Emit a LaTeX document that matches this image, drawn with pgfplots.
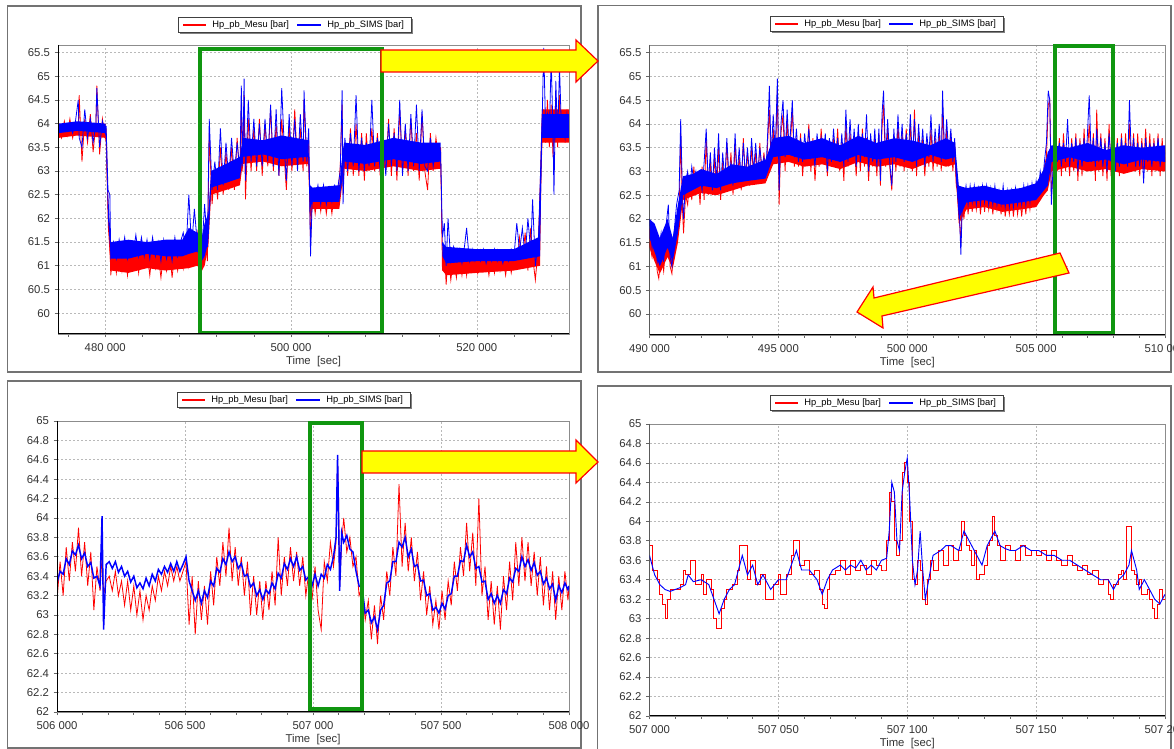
\documentclass[border=0pt]{standalone}
\usepackage{fontspec}
\setmainfont{Liberation Sans}
\usepackage{pgfplots}
\pgfplotsset{compat=1.18}
\usepackage{pgfplotstable}

\definecolor{mred}{RGB}{255,0,0}
\definecolor{sblue}{RGB}{0,0,255}
\definecolor{boxgreen}{RGB}{16,150,16}
\definecolor{arrowyellow}{RGB}{255,255,0}
\tikzset{greenbox/.style={draw=boxgreen, line width=3pt}}

% core bands of the noise (upper edge forward, lower edge backward)
\pgfplotstableread{
t y
475000 64.0
477000 63.95
480050 64.0
480300 62.3
480600 61.35
482500 61.3
484500 61.35
486500 61.25
489000 61.35
489900 61.5
490400 61.5
490700 61.6
491100 62.0
491400 62.9
493000 63.0
494500 63.2
494800 63.6
497000 63.55
499000 63.65
501850 63.55
502050 62.6
502300 62.5
505200 62.6
505500 63.2
505700 63.5
508000 63.45
511000 63.6
514000 63.5
516100 63.5
516300 61.3
516700 61.2
520000 61.25
524000 61.2
526600 61.4
527000 64.3
529920 64.3
529920 63.6
527000 63.6
526800 61.0
524000 60.9
520000 60.85
516700 60.8
516300 60.9
516100 63.05
514000 63.0
511000 63.1
508000 63.0
505700 63.05
505500 62.7
505200 62.2
502300 62.2
502050 62.0
501850 63.15
499000 63.1
497000 63.2
494800 63.15
494500 62.7
493000 62.6
491400 62.5
491100 61.4
490700 61.0
490400 60.9
489900 61.0
489000 60.95
486500 60.9
484500 60.95
482500 60.85
480600 60.9
480300 61.8
480050 63.7
477000 63.75
475000 63.7
}\bandTLm

\pgfplotstableread{
t y
475000 64.0
477000 64.05
480050 64.0
480300 62.6
480600 61.5
482500 61.55
484500 61.5
486500 61.55
488300 61.55
489000 61.8
489900 61.7
490400 61.6
490700 61.9
491100 62.1
491400 63.0
493000 63.15
494500 63.3
494800 63.7
497000 63.65
499000 63.75
501850 63.65
502050 62.7
502300 62.65
505200 62.7
505500 63.3
505700 63.6
508000 63.55
511000 63.7
514000 63.6
516100 63.6
516300 61.5
516700 61.4
520000 61.35
524000 61.35
526600 61.6
527000 64.2
529920 64.2
529920 63.7
527000 63.7
526800 61.2
524000 61.1
520000 61.1
516700 61.05
516300 61.2
516100 63.2
514000 63.15
511000 63.25
508000 63.15
505700 63.2
505500 62.8
505200 62.35
502300 62.35
502050 62.2
501850 63.3
499000 63.25
497000 63.35
494800 63.3
494500 62.85
493000 62.75
491400 62.65
491100 61.5
490700 61.2
490400 61.1
489900 61.3
489000 61.25
488300 61.2
486500 61.2
484500 61.25
482500 61.15
480600 61.15
480300 62.0
480050 63.8
477000 63.85
475000 63.8
}\bandTLs

\pgfplotstableread{
t y
490000 61.8
490200 61.7
490400 61.4
490700 61.8
490900 61.5
491100 62.2
491300 62.8
491700 62.85
492000 62.95
492600 62.85
493200 63.05
493800 63.0
494500 63.15
494800 63.55
495400 63.6
496000 63.5
496700 63.6
497400 63.45
498100 63.6
498800 63.5
499500 63.55
500200 63.5
500900 63.45
501500 63.55
501850 63.5
502000 62.6
502300 62.5
503000 62.55
503700 62.45
504400 62.5
505000 62.6
505300 63.0
505450 63.3
505600 63.45
506300 63.4
507000 63.5
507700 63.35
508400 63.45
509100 63.4
510000 63.45
510000 63.0
509100 63.05
508400 62.95
507700 63.05
507000 63.0
506300 63.1
505600 63.0
505450 62.6
505300 62.5
505000 62.25
504400 62.2
503700 62.15
503000 62.25
502300 62.2
502000 61.9
501850 63.15
501500 63.1
500900 63.2
500200 63.05
499500 63.15
498800 63.1
498100 63.2
497400 63.05
496700 63.15
496000 63.1
495400 63.2
494800 63.15
494500 62.75
493800 62.7
493200 62.6
492600 62.5
492000 62.55
491300 62.4
491100 61.5
490900 60.95
490700 61.2
490400 60.85
490200 61.1
490000 61.4
}\bandTRm

\pgfplotstableread{
t y
490000 62.0
490200 61.9
490400 61.6
490700 62.0
490900 61.6
491100 62.3
491300 62.9
491700 62.95
492000 63.05
492600 62.95
493200 63.15
493800 63.1
494500 63.25
494800 63.7
495400 63.75
496000 63.6
496700 63.7
497400 63.55
498100 63.75
498800 63.6
499500 63.7
500200 63.65
500900 63.55
501500 63.7
501850 63.6
502000 62.7
502300 62.65
503000 62.7
503700 62.6
504400 62.65
505000 62.75
505300 63.05
505450 63.4
505600 63.55
506300 63.5
507000 63.6
507700 63.45
508400 63.55
509100 63.5
510000 63.55
510000 63.2
509100 63.25
508400 63.15
507700 63.25
507000 63.2
506300 63.3
505600 63.2
505450 62.7
505300 62.6
505000 62.4
504400 62.35
503700 62.3
503000 62.4
502300 62.35
502000 62.0
501850 63.3
501500 63.25
500900 63.35
500200 63.2
499500 63.3
498800 63.25
498100 63.35
497400 63.2
496700 63.3
496000 63.25
495400 63.35
494800 63.3
494500 62.85
493800 62.8
493200 62.75
492600 62.65
492000 62.7
491300 62.5
491100 61.7
490900 61.1
490700 61.4
490400 61.0
490200 61.3
490000 61.6
}\bandTRs

\pgfplotstableread{
t m s
475000 63.9 63.95
475300 63.7 63.85
475600 64.05 64.0
475900 63.75 63.85
476200 64.1 64.0
476500 63.7 63.8
476800 64.0 64.05
477100 63.8 64.5
477200 64.6 63.7
477500 63.2 63.5
477800 64.1 64.3
478100 63.6 63.7
478400 64.2 64.1
478700 63.4 63.6
479000 64.0 64.0
479100 64.8 64.75
479400 63.35 63.5
479700 64.1 64.05
480000 63.7 63.8
480100 63.9 63.95
480300 62.3 62.6
480500 61.5 62.5
480600 60.8 61.2
480900 61.4 61.5
481200 60.85 61.15
481500 61.35 61.55
481800 60.9 61.2
482100 61.4 61.6
482400 60.8 61.15
482700 61.3 61.5
483000 60.95 61.25
483300 61.45 61.65
483600 60.85 61.2
483900 61.4 61.6
484200 61.0 61.2
484500 61.3 61.55
484800 60.8 61.15
485100 61.35 61.6
485400 60.95 61.2
485700 61.25 61.5
486000 60.75 61.1
486300 61.3 61.55
486600 60.9 61.15
486900 61.4 61.45
487200 60.75 61.1
487500 61.3 61.6
487800 60.9 61.2
488100 61.35 61.5
488400 60.95 61.7
488700 61.5 61.3
489000 61.0 62.5
489300 61.6 61.4
489600 61.2 62.2
489900 61.7 61.5
490100 61.4 61.9
490400 60.9 61.3
490700 61.8 62.3
491000 61.1 61.4
491200 63.8 64.1
491500 62.3 62.6
491800 63.0 63.2
492100 62.4 62.6
492400 63.5 63.9
492700 62.5 62.7
493000 63.4 63.6
493300 62.6 62.8
493600 63.5 63.7
493900 62.6 62.9
494200 63.7 63.6
494500 62.8 63.0
494650 64.4 64.8
494800 63.0 63.1
494950 64.6 64.95
495100 62.4 62.8
495400 64.1 64.5
495700 63.0 63.2
496000 63.9 64.1
496300 63.0 63.1
496600 64.1 64.0
496900 62.9 63.1
497200 64.0 64.1
497500 63.1 63.2
497800 64.3 64.4
498100 63.0 63.1
498400 64.0 64.3
498700 62.9 62.9
499000 64.1 64.75
499300 63.2 63.4
499500 62.6 62.8
499800 64.0 64.2
500100 63.0 63.1
500400 64.3 64.1
500700 63.1 63.0
501000 63.9 64.2
501300 63.0 63.2
501400 64.5 64.7
501700 63.1 63.2
501900 63.8 63.9
502000 62.4 62.6
502100 61.5 61.2
502300 62.6 62.5
502600 62.1 62.4
502900 62.6 62.7
503200 62.15 62.3
503500 62.6 62.7
503800 62.1 62.3
504100 62.55 62.65
504400 62.1 62.35
504700 62.6 62.7
505000 62.4 62.6
505300 63.1 63.0
505500 64.4 64.7
505600 62.5 62.3
505800 63.6 63.7
506100 62.9 63.0
506400 63.9 63.8
506700 62.9 63.1
507000 64.0 64.6
507300 62.9 63.0
507600 63.8 63.7
507900 62.8 63.0
508100 63.8 63.6
508400 63.0 63.1
508700 63.9 64.5
509000 63.0 63.1
509300 63.8 63.7
509600 62.9 63.0
509900 63.85 63.8
510200 63.0 62.9
510500 64.1 64.0
510800 62.9 63.1
511100 63.9 63.8
511400 62.8 63.0
511700 64.3 64.5
512000 63.0 62.9
512300 63.9 64.0
512600 62.9 63.0
512900 64.1 64.2
513200 63.0 63.1
513500 63.8 64.4
513800 62.8 63.0
514100 64.2 64.3
514400 63.0 63.1
514700 62.6 63.0
515000 63.8 63.7
515300 63.0 63.1
515600 63.7 63.5
515900 63.2 63.3
516100 63.5 63.4
516300 60.9 61.6
516500 61.4 61.9
516700 60.6 61.0
516900 61.3 62.0
517200 60.7 61.1
517500 61.2 61.4
517800 60.75 61.1
518100 61.3 61.35
518400 60.8 61.05
518700 61.25 61.45
518900 60.8 61.8
519200 61.3 61.1
519500 60.9 61.35
519800 61.25 61.1
520100 60.85 61.3
520400 61.3 61.1
520700 60.9 61.35
521000 61.2 61.05
521300 60.8 61.3
521600 61.25 61.1
521900 60.85 61.35
522200 61.3 61.1
522500 60.9 61.3
522800 61.2 61.05
523100 60.8 61.3
523400 61.25 61.1
523700 60.85 61.35
524000 61.2 61.2
524300 61.0 61.9
524600 61.6 61.3
524900 61.1 61.8
525200 61.7 61.2
525500 60.9 62.0
525800 61.8 61.3
526000 61.2 62.4
526300 60.7 61.0
526600 61.4 61.5
526800 62.4 62.0
527000 63.5 63.8
527200 64.3 65.6
527400 63.6 63.9
527600 64.5 64.2
527800 63.5 63.7
528000 64.4 65.4
528200 63.3 63.8
528300 63.9 62.5
528500 64.5 64.9
528700 63.5 63.7
528900 64.6 65.2
529100 63.7 63.9
529300 64.2 64.0
529500 63.6 63.7
529700 64.3 64.2
529900 63.8 63.9
}\tabTL

\pgfplotstableread{
t m s
490000 61.5 62.0
490100 61.2 61.4
490200 61.6 61.8
490300 60.9 61.1
490360 60.75 61.3
490450 61.3 61.7
490550 60.9 61.1
490650 61.6 61.9
490730 61.9 62.3
490800 61.0 61.2
490870 60.85 61.0
490950 61.5 61.7
491050 61.9 62.3
491150 62.1 62.6
491210 63.8 64.1
491280 62.2 62.5
491320 61.7 62.0
491400 62.5 62.8
491480 62.3 63.0
491560 62.9 62.6
491640 62.4 63.1
491720 63.1 62.8
491800 62.5 63.0
491880 63.0 62.7
491960 62.3 62.9
492040 63.1 62.6
492120 62.4 63.2
492200 63.7 63.9
492280 62.5 62.7
492360 63.2 63.4
492440 62.5 62.6
492520 63.3 63.5
492600 62.6 62.8
492680 63.5 63.8
492760 62.4 62.6
492840 63.2 63.4
492920 62.6 62.8
493000 63.6 63.7
493080 62.7 62.9
493160 63.4 63.2
493240 62.5 62.7
493320 63.6 63.8
493400 62.8 62.9
493480 63.3 63.5
493560 62.6 62.8
493640 63.7 63.6
493720 62.8 62.9
493800 63.4 63.5
493880 62.7 62.9
493960 63.5 63.7
494040 62.9 63.0
494120 63.4 63.6
494200 62.8 62.9
494280 63.6 63.5
494360 62.9 63.1
494440 63.4 63.3
494520 62.8 63.0
494600 63.8 64.0
494650 64.3 64.8
494720 63.1 63.3
494800 63.9 64.2
494880 63.2 63.4
494960 64.7 64.95
495030 62.3 62.6
495100 63.8 64.0
495180 64.2 64.5
495260 63.0 63.3
495340 64.1 64.3
495420 63.2 63.4
495500 63.9 64.1
495540 64.3 64.5
495620 63.1 63.3
495700 63.7 63.9
495780 63.1 63.2
495860 63.8 63.7
495940 62.9 63.2
496020 63.6 63.8
496100 63.2 63.3
496180 64.0 63.9
496260 63.0 63.3
496340 63.7 63.5
496420 62.8 63.1
496500 63.5 63.8
496580 63.1 63.3
496660 63.9 63.7
496740 63.2 63.3
496820 63.6 63.8
496900 62.9 63.0
496980 63.5 63.7
497060 63.1 63.2
497140 63.7 63.9
497220 63.2 63.3
497300 63.9 63.7
497380 63.0 63.2
497460 63.6 63.8
497540 62.8 63.1
497620 64.0 64.3
497700 63.1 63.2
497780 63.8 64.1
497860 63.2 63.3
497940 63.6 63.9
498020 62.9 63.1
498100 63.8 64.0
498180 63.0 63.2
498260 63.9 63.8
498340 63.1 63.3
498420 63.7 64.2
498500 62.8 63.0
498580 63.6 63.8
498660 63.1 63.2
498740 63.7 63.9
498820 62.9 63.1
498900 63.8 63.9
498960 62.7 62.8
499020 63.9 64.2
499080 64.4 64.7
499160 63.1 63.3
499240 63.9 64.1
499320 63.1 63.2
499400 62.6 62.7
499480 63.7 63.9
499560 63.0 63.2
499640 64.0 64.2
499720 63.1 63.3
499800 63.8 64.0
499880 63.0 63.2
499960 63.9 63.8
500040 63.1 63.3
500120 64.0 64.2
500200 63.0 63.2
500280 64.3 64.1
500360 62.9 63.1
500440 63.8 64.0
500520 63.2 63.3
500600 63.7 63.9
500680 62.9 63.1
500760 63.6 63.8
500840 63.1 63.3
500920 63.9 64.2
501000 63.0 63.2
501080 63.7 63.9
501160 63.1 63.3
501240 63.8 64.0
501320 63.0 63.2
501370 64.4 64.7
501450 63.2 63.3
501530 63.9 64.1
501610 63.1 63.3
501690 63.8 63.9
501770 63.0 63.2
501840 63.6 63.7
501900 62.7 62.9
501960 62.6 62.5
502020 62.0 62.2
502080 61.5 61.25
502130 62.3 62.2
502200 62.0 62.4
502280 62.6 62.7
502360 62.1 62.3
502440 62.6 62.7
502520 62.15 62.35
502600 62.65 62.7
502680 62.2 62.3
502760 62.6 62.65
502840 62.1 62.3
502920 62.6 62.7
503000 62.15 62.35
503080 62.65 62.7
503160 62.2 62.3
503240 62.55 62.65
503320 62.1 62.3
503400 62.6 62.7
503480 62.2 62.3
503560 62.5 62.6
503640 62.1 62.3
503720 62.6 62.7
503800 62.05 62.25
503880 62.45 62.6
503960 62.1 62.25
504040 62.5 62.6
504120 62.05 62.25
504200 62.55 62.65
504280 62.1 62.3
504360 62.5 62.6
504440 62.05 62.3
504520 62.55 62.7
504600 62.1 62.3
504680 62.6 62.7
504760 62.2 62.35
504840 62.6 62.75
504920 62.3 62.45
505000 62.7 62.8
505080 62.5 62.6
505160 62.85 63.0
505240 62.5 62.7
505320 63.1 63.2
505400 63.3 63.6
505470 64.4 64.7
505530 64.5 64.5
505590 62.5 62.3
505660 63.0 63.1
505740 63.6 63.8
505820 63.0 63.2
505900 63.7 63.6
505980 62.9 63.1
506060 63.8 63.6
506140 63.0 63.2
506220 63.5 64.1
506300 62.9 63.1
506380 63.7 63.6
506460 63.0 63.2
506540 63.8 63.7
506620 62.8 63.0
506700 63.7 63.6
506780 62.9 63.1
506860 63.9 63.7
506940 63.0 63.2
507060 64.0 64.6
507140 63.1 63.2
507220 63.8 63.7
507300 62.8 63.1
507350 64.3 63.9
507430 63.0 63.2
507510 63.8 63.7
507590 62.9 63.1
507670 63.7 63.6
507750 62.8 63.0
507830 64.0 63.8
507910 62.9 63.2
507990 63.8 63.7
508070 63.1 63.0
508150 63.7 63.6
508230 62.9 63.1
508310 63.8 63.7
508390 63.0 63.2
508470 63.8 63.6
508550 63.0 63.1
508620 64.0 64.5
508700 63.1 63.2
508780 63.8 63.7
508860 63.0 63.1
508940 63.8 63.6
509020 62.9 63.1
509100 63.7 63.6
509170 63.1 62.75
509250 63.9 63.7
509330 63.0 63.2
509410 63.8 63.6
509490 62.9 63.1
509570 63.7 63.6
509650 63.0 63.2
509730 63.8 63.7
509810 62.9 63.1
509890 63.7 63.5
509960 63.0 63.3
510000 63.3 63.4
}\tabTR

\pgfplotstableread{
t m s
506000 63.15 63.33
506012 63.55 63.45
506024 63.2 63.42
506036 63.7 63.58
506048 63.35 63.52
506060 63.75 63.66
506072 63.45 63.62
506084 63.9 63.72
506096 63.4 63.58
506108 63.75 63.64
506120 63.3 63.5
506132 63.65 63.54
506144 63.05 63.38
506156 63.5 63.4
506168 63.25 63.3
506176 63.6 64.02
506182 63.2 62.85
506192 63.35 63.52
506204 63.4 63.55
506216 63.25 63.48
506228 63.45 63.55
506240 63.2 63.44
506252 63.35 63.5
506264 63.1 63.4
506276 63.35 63.45
506288 63.05 63.34
506300 63.3 63.4
506312 63.0 63.28
506324 63.25 63.33
506336 62.95 63.27
506348 63.2 63.38
506360 63.05 63.3
506372 63.3 63.42
506384 63.15 63.35
506396 63.4 63.47
506408 63.25 63.42
506420 63.45 63.5
506432 63.3 63.44
506444 63.5 63.53
506456 63.35 63.45
506468 63.5 63.55
506480 63.35 63.45
506492 63.45 63.52
506504 63.55 63.6
506516 62.9 63.35
506528 63.4 63.25
506540 62.8 63.15
506552 63.35 63.25
506564 62.95 63.12
506576 63.3 63.25
506588 62.9 63.18
506600 63.45 63.35
506612 63.1 63.3
506624 63.6 63.48
506636 63.3 63.44
506648 63.75 63.58
506660 63.4 63.52
506672 63.9 63.65
506684 63.35 63.55
506696 63.7 63.6
506708 63.3 63.48
506720 63.6 63.53
506732 63.2 63.4
506744 63.55 63.42
506756 63.0 63.29
506768 63.4 63.33
506780 63.0 63.2
506792 63.35 63.26
506804 62.95 63.16
506816 63.35 63.26
506828 63.05 63.22
506840 63.45 63.33
506852 63.1 63.27
506864 63.8 63.43
506876 63.2 63.38
506888 63.6 63.53
506900 63.3 63.47
506912 63.7 63.58
506924 63.35 63.5
506936 63.65 63.6
506948 63.3 63.46
506960 63.6 63.5
506972 63.2 63.36
506984 63.45 63.4
506996 63.15 63.3
507008 63.5 63.42
507020 63.05 63.3
507032 62.85 63.42
507044 63.55 63.38
507056 63.35 63.52
507068 63.75 63.47
507080 63.5 63.6
507090 63.75 63.8
507096 64.55 64.65
507100 64.2 64.0
507104 63.3 63.25
507112 63.75 63.85
507120 64.0 63.75
507132 63.65 63.82
507144 63.8 63.68
507156 63.5 63.65
507168 63.6 63.45
507180 63.2 63.3
507192 63.3 63.28
507204 62.95 63.02
507216 63.15 63.05
507228 62.75 62.92
507240 63.1 62.98
507252 62.7 62.85
507264 63.2 63.05
507276 62.95 63.1
507288 63.45 63.33
507300 63.2 63.35
507312 63.7 63.55
507324 63.4 63.55
507336 64.35 63.75
507348 63.5 63.7
507360 63.95 63.8
507372 63.45 63.6
507384 63.8 63.68
507396 63.35 63.5
507408 63.65 63.52
507420 63.15 63.35
507432 63.45 63.36
507444 63.0 63.2
507456 63.3 63.22
507468 62.9 63.05
507480 63.15 63.08
507492 62.85 63.02
507504 63.25 63.12
507516 62.95 63.06
507528 63.35 63.2
507540 63.1 63.22
507552 63.55 63.4
507564 63.25 63.4
507576 63.7 63.56
507588 63.4 63.55
507600 63.95 63.72
507612 63.45 63.6
507624 63.85 63.65
507636 63.3 63.48
507648 64.2 63.5
507660 63.2 63.34
507672 63.5 63.35
507684 62.95 63.16
507696 63.35 63.22
507708 62.9 63.12
507720 63.3 63.2
507732 62.85 63.12
507744 63.4 63.26
507756 63.05 63.22
507768 63.55 63.38
507780 63.15 63.34
507792 63.75 63.48
507804 63.3 63.45
507816 63.8 63.6
507828 63.35 63.5
507840 63.75 63.57
507852 63.3 63.46
507864 63.65 63.54
507876 63.2 63.41
507888 63.6 63.45
507900 63.1 63.32
507912 63.5 63.38
507924 63.05 63.27
507936 63.45 63.32
507948 62.95 63.15
507960 63.4 63.3
507972 63.05 63.23
507984 63.45 63.33
507996 63.15 63.26
508000 63.3 63.3
}\tabBL

\pgfplotstableread{
t s
507000 63.65
507002 63.45
507004 63.35
507006 63.3
507008 63.28
507010 63.3
507012 63.32
507014 63.35
507015 63.45
507017 63.38
507020 63.4
507023 63.35
507025 63.2
507027 63.05
507029 63.2
507031 63.3
507033 63.35
507035 63.55
507036 63.65
507038 63.45
507040 63.55
507042 63.35
507044 63.45
507047 63.3
507050 63.4
507053 63.4
507055 63.55
507057 63.7
507059 63.5
507062 63.5
507065 63.4
507067 63.25
507069 63.4
507071 63.5
507074 63.55
507076 63.5
507078 63.55
507080 63.52
507082 63.6
507084 63.5
507086 63.55
507088 63.5
507090 63.6
507092 63.62
507093 63.9
507094 64.4
507095 64.3
507096 63.8
507097 63.7
507098 64.3
507099 64.5
507100 64.65
507101 64.2
507102 63.6
507103 63.35
507104 63.5
507105 63.9
507106 63.5
507107 63.2
507108 63.35
507110 63.65
507113 63.7
507115 63.75
507117 63.75
507120 63.7
507122 63.9
507124 63.8
507127 63.65
507129 63.55
507131 63.75
507133 63.85
507134 63.9
507136 63.75
507138 63.72
507140 63.7
507142 63.7
507145 63.75
507148 63.7
507151 63.7
507154 63.65
507157 63.65
507160 63.6
507163 63.6
507166 63.55
507169 63.5
507172 63.45
507175 63.4
507178 63.4
507180 63.3
507182 63.4
507184 63.45
507186 63.55
507187 63.7
507189 63.5
507190 63.3
507192 63.4
507194 63.3
507196 63.2
507198 63.15
507200 63.25
}\tabBRs

\pgfplotstableread{
t m
507000 63.75
507001 63.5
507003 63.4
507004 63.25
507005 63.15
507006 63.0
507007 63.2
507008 63.3
507010 63.3
507012 63.35
507013 63.5
507014 63.45
507016 63.6
507018 63.35
507020 63.45
507021 63.25
507022 63.4
507024 63.3
507025 63.0
507026 62.9
507027 62.9
507028 63.1
507029 63.2
507030 63.3
507032 63.35
507034 63.5
507035 63.75
507037 63.75
507038 63.4
507039 63.6
507040 63.6
507041 63.35
507043 63.45
507045 63.2
507046 63.2
507048 63.35
507050 63.45
507051 63.25
507053 63.45
507055 63.65
507056 63.8
507057 63.8
507058 63.55
507060 63.6
507062 63.45
507064 63.5
507066 63.3
507067 63.15
507068 63.1
507069 63.3
507070 63.45
507072 63.5
507074 63.6
507076 63.45
507078 63.6
507080 63.5
507082 63.55
507084 63.45
507086 63.6
507088 63.55
507090 63.5
507091 63.5
507092 63.8
507093 64.3
507094 64.2
507095 63.8
507096 63.65
507097 63.8
507098 64.5
507099 64.6
507100 64.4
507101 64.0
507102 63.4
507103 63.35
507104 63.6
507105 63.5
507106 63.2
507107 63.15
507108 63.4
507109 63.6
507110 63.5
507112 63.7
507114 63.55
507116 63.75
507118 63.6
507120 63.7
507121 64.0
507122 63.85
507123 63.75
507124 63.7
507125 63.55
507126 63.7
507127 63.4
507128 63.45
507130 63.55
507131 63.75
507132 63.8
507133 64.05
507134 63.85
507135 63.75
507136 63.6
507138 63.75
507140 63.7
507142 63.6
507144 63.75
507146 63.65
507148 63.7
507150 63.65
507152 63.7
507154 63.6
507156 63.7
507158 63.6
507160 63.55
507162 63.65
507164 63.55
507166 63.5
507168 63.55
507170 63.45
507172 63.5
507174 63.35
507176 63.4
507178 63.25
507179 63.2
507180 63.35
507182 63.45
507183 63.5
507184 63.4
507185 63.95
507186 63.95
507187 63.5
507188 63.45
507189 63.35
507190 63.4
507191 63.25
507193 63.3
507194 63.2
507195 63.1
507196 63.0
507197 63.15
507198 63.3
507199 63.2
507200 63.3
}\tabBRm

\pgfplotsset{
  panel/.style={
    scale only axis, anchor=south west,
    scaled x ticks=false, scaled y ticks=false,
    axis line style={black!45, line width=0.5pt},
    grid=major,
    grid style={gray!55, line width=0.5pt, dash pattern=on 1.5pt off 1.5pt},
    tick align=outside, tick pos=left,
    major tick length=2.5pt, minor tick length=2pt,
    tick style={black!60, line width=0.5pt},
    every tick label/.append style={font=\fontsize{8.5}{10}\selectfont, text=black!80},
    xticklabel style={yshift=-1.5pt},
    /pgf/number format/assume math mode=true,
    xlabel={Time\ \ [sec]},
    xlabel style={font=\fontsize{8.5}{10}\selectfont, text=black!80, yshift=3.9pt},
  },
  bigy/.style={ymin=59.56, ymax=65.66,
    ytick={60,60.5,61,61.5,62,62.5,63,63.5,64,64.5,65,65.5}},
  smally/.style={ymin=62, ymax=65,
    ytick={62,62.2,62.4,62.6,62.8,63,63.2,63.4,63.6,63.8,64,64.2,64.4,64.6,64.8,65}},
}

% legend boxes and samples: #1 = left x, #2 = top y (image pixels, inside the px scope)
\newcommand{\legendbox}[2]{%
  \fill[fill=black!50] (#1+2,#2+2) rectangle (#1+235,#2+17);
  \filldraw[fill=white, draw=black!75, line width=0.6pt] (#1,#2) rectangle (#1+233,#2+15);
}
\newcommand{\legendsamples}[2]{%
  \filldraw[fill=mred, draw=mred, line width=0.3pt] (#1+5,#2+7) rectangle (#1+27,#2+8);
  \filldraw[fill=sblue, draw=sblue, line width=0.3pt] (#1+119,#2+7) rectangle (#1+142,#2+8);
}
\newcommand{\legendtext}[2]{%
  \node[anchor=west, inner sep=0pt, font=\fontsize{7}{8}\selectfont] at (#1+34,#2+7.8) {Hp\_pb\_Mesu [bar]};
  \node[anchor=west, inner sep=0pt, font=\fontsize{7}{8}\selectfont] at (#1+149,#2+7.8) {Hp\_pb\_SIMS [bar]};
}

\begin{document}
\begin{tikzpicture}
\useasboundingbox (0,0) rectangle (880.5pt,561.75pt);
\clip (0,0) rectangle (880.5pt,561.75pt);
\fill[fill=white] (0,0) rectangle (880.5pt,561.75pt);

\begin{scope}[x=0.75pt,y=-0.75pt,yshift=561.75pt]
\draw[draw=black!55, line width=0.9pt] (7.5,6) rectangle (581,372);
\draw[draw=black!55, line width=0.9pt] (598,5.5) rectangle (1171,372);
\draw[draw=black!55, line width=0.9pt] (7.5,381) rectangle (581,748);
\draw[draw=black!55, line width=0.9pt] (597.5,386) rectangle (1171,760);
\end{scope}

% top left
\begin{axis}[panel, bigy, at={(43.5pt,311.25pt)}, width=383.25pt, height=216.75pt,
  xmin=474920, xmax=529920,
  xtick={480000,500000,520000}, xticklabels={480 000,500 000,520 000},
  minor xtick={476000,484000,488000,492000,496000,504000,508000,512000,516000,524000,528000}]
\addplot[draw=none, fill=mred] table[x=t,y=y] {\bandTLm} -- cycle;
\addplot[draw=mred, line width=0.6pt] table[x=t,y=m] {\tabTL};
\addplot[draw=none, fill=sblue] table[x=t,y=y] {\bandTLs} -- cycle;
\addplot[draw=sblue, line width=0.6pt] table[x=t,y=s] {\tabTL};
\draw[greenbox] (axis cs:490200,59.59) rectangle (axis cs:509800,65.58);
\draw[draw=black, line width=1.2pt] (rel axis cs:0,1) -- (rel axis cs:0,0) -- (rel axis cs:1,0);
\end{axis}

% top right
\begin{axis}[panel, bigy, at={(487.125pt,310.5pt)}, width=386.625pt, height=217.5pt,
  xmin=490000, xmax=510000,
  xtick={490000,495000,500000,505000,510000},
  xticklabels={490 000,495 000,500 000,505 000,510 000},
  minor xtick={491000,492000,493000,494000,496000,497000,498000,499000,501000,502000,503000,504000,506000,507000,508000,509000}]
\addplot[draw=none, fill=mred] table[x=t,y=y] {\bandTRm} -- cycle;
\addplot[draw=mred, line width=0.6pt] table[x=t,y=m] {\tabTR};
\addplot[draw=none, fill=sblue] table[x=t,y=y] {\bandTRs} -- cycle;
\addplot[draw=sblue, line width=0.6pt] table[x=t,y=s] {\tabTR};
\draw[greenbox] (axis cs:505750,59.6) rectangle (axis cs:508000,65.63);
\draw[draw=black, line width=1.2pt] (rel axis cs:0,1) -- (rel axis cs:0,0) -- (rel axis cs:1,0);
\end{axis}

% bottom left
\begin{axis}[panel, smally, at={(42.75pt,27.75pt)}, width=384pt, height=218.25pt,
  xmin=506000, xmax=508000,
  xtick={506000,506500,507000,507500,508000},
  xticklabels={506 000,506 500,507 000,507 500,508 000},
  minor xtick={506100,506200,506300,506400,506600,506700,506800,506900,507100,507200,507300,507400,507600,507700,507800,507900}]
\addplot[draw=mred, line width=0.6pt] table[x=t,y=m] {\tabBL};
\addplot[draw=sblue, line width=1.1pt] table[x=t,y=s] {\tabBL};
\draw[greenbox] (axis cs:506988,62.035) rectangle (axis cs:507192,64.98);
\draw[draw=black, line width=1.2pt] (rel axis cs:0,1) -- (rel axis cs:0,0) -- (rel axis cs:1,0);
\end{axis}

% bottom right
\begin{axis}[panel, smally, at={(487.125pt,24.75pt)}, width=386.625pt, height=219pt,
  xmin=507000, xmax=507200,
  xtick={507000,507050,507100,507150,507200},
  xticklabels={507 000,507 050,507 100,507 150,507 200},
  minor xtick={507010,507020,507030,507040,507060,507070,507080,507090,507110,507120,507130,507140,507160,507170,507180,507190}]
\addplot[draw=mred, line width=0.7pt, const plot] table[x=t,y=m] {\tabBRm};
\addplot[draw=sblue, line width=0.7pt] table[x=t,y=s] {\tabBRs};
\draw[draw=black, line width=1.2pt] (rel axis cs:0,1) -- (rel axis cs:0,0) -- (rel axis cs:1,0);
\end{axis}

\begin{scope}[x=0.75pt,y=-0.75pt,yshift=561.75pt]
\legendbox{178}{17}
\legendbox{770}{16}
\legendbox{177}{392}
\legendbox{770}{395}
\legendsamples{178}{17}
\legendsamples{770}{16}
\legendsamples{177}{392}
\legendsamples{770}{395}
\legendtext{178}{17}
\legendtext{770}{16}
\legendtext{177}{392}
\legendtext{770}{395}
\filldraw[fill=arrowyellow, draw=mred, line width=0.9pt, line join=miter]
  (381,50) -- (576,50) -- (576,40) -- (598,61) -- (576,82) -- (576,72) -- (381,72) -- cycle;
\filldraw[fill=arrowyellow, draw=mred, line width=0.9pt, line join=miter]
  (362,451) -- (576,451) -- (576,440) -- (598,462) -- (576,483) -- (576,473) -- (362,473) -- cycle;
\filldraw[fill=arrowyellow, draw=mred, line width=0.9pt, line join=miter]
  (1060,253) -- (874,298) -- (873,287) -- (857,312) -- (883,328) -- (882,316) -- (1069,273) -- cycle;
\end{scope}
\end{tikzpicture}
\end{document}
